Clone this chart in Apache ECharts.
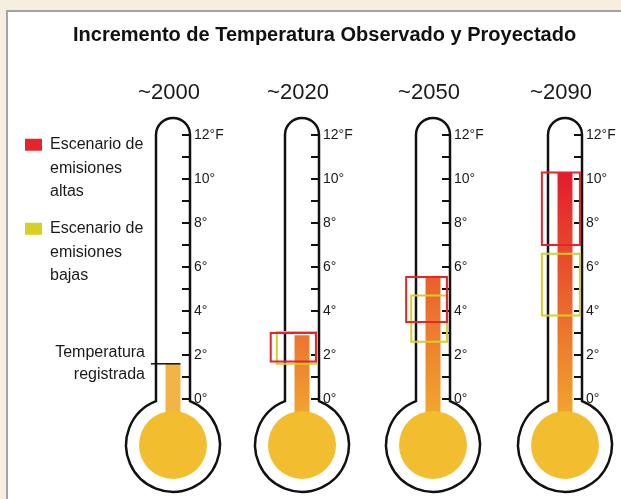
<!DOCTYPE html>
<html><head><meta charset="utf-8">
<script src="https://cdn.jsdelivr.net/npm/echarts@6/dist/echarts.min.js"></script>
<style>html,body{margin:0;padding:0;background:#f6efdf}#c{width:621px;height:499px}</style>
</head><body><div id="c"></div>
<script>
// ---- data ----
const years = ['~2000', '~2020', '~2050', '~2090'];
const scaleLabels = ['0°', '2°', '4°', '6°', '8°', '10°', '12°F'];
const observed = [1.6, null, null, null];
const stemTop = [1.6, 2.9, 5.55, 10.3];
const highLow = [null, 1.7, 3.5, 7.0];
const highHigh = [null, 3.0, 5.55, 10.3];
const lowLow = [null, 1.6, 2.6, 3.8];
const lowHigh = [null, 3.05, 4.7, 6.6];
const HIGH = 'Escenario de emisiones altas';
const LOW = 'Escenario de emisiones bajas';
const OBS_LABEL = 'Temperatura\nregistrada';
const TITLE = 'Incremento de Temperatura Observado y Proyectado';

// ---- style ----
const FONT = "'Liberation Sans', Arial, sans-serif";
const gridLeft = [156, 285, 416, 548];
const TW = 34;
const stemTopColor = ['#f0b546', '#ec7431', '#e9602d', '#e31b2d'];
const redInset = [null, [-0.42, 0.91], [-0.29, 0.91], [-0.18, 0.94]];
const yelInset = [null, [-0.24, 0.94], [-0.14, 0.91], [-0.18, 0.94]];
const RED = '#e5242c', YEL = '#d6cf24';

const chart = echarts.init(document.getElementById('c'));
const grids = [], xAxes = [], yAxes = [], series = [];

function geom(api) {
  const t = api.coord([0, 12]), b = api.coord([0, 0]), w = api.size([1, 0])[0];
  const cx = t[0];
  return { t, b, w, cx, xl: cx - w / 2, xr: cx + w / 2, r: w / 2, R: w * 1.38, cy: b[1] + w * 1.35 };
}

years.forEach((yr, i) => {
  grids.push({ left: gridLeft[i], top: 135, width: TW, height: 264 });
  xAxes.push({
    type: 'category', gridIndex: i, data: [yr], position: 'top',
    axisLine: { show: false }, axisTick: { show: false }, splitLine: { show: false },
    axisLabel: { fontSize: 22, color: '#1a1a1a', margin: 31, fontFamily: FONT, padding: [0, 8, 0, 0] }
  });
  yAxes.push({
    type: 'value', gridIndex: i, min: 0, max: 12, interval: 1, position: 'right',
    axisLine: { show: false }, splitLine: { show: false },
    axisTick: { show: true, inside: true, length: 8, lineStyle: { color: '#111', width: 2 } },
    axisLabel: { margin: 4, fontSize: 14, color: '#1a1a1a', fontFamily: FONT,
      formatter: v => (v % 2 === 0 ? scaleLabels[v / 2] : '') }
  });
  // stem + bulb
  series.push({
    type: 'custom', xAxisIndex: i, yAxisIndex: i, silent: true, z: 2,
    data: [[0, stemTop[i]]],
    renderItem: (p, api) => {
      const g = geom(api);
      const top = api.coord([0, api.value(1)])[1];
      const sw = g.w * 0.44;
      const fill = i === 0 ? stemTopColor[0] : new echarts.graphic.LinearGradient(0, 0, 0, 1, [
        { offset: 0, color: stemTopColor[i] }, { offset: 1, color: '#f3b62e' }]);
      return { type: 'group', children: [
        { type: 'rect', shape: { x: g.cx - sw / 2, y: top, width: sw, height: g.cy - top }, style: { fill } },
        { type: 'circle', shape: { cx: g.cx, cy: g.cy, r: g.w * 1.0 }, style: { fill: '#f2bd2e' } }
      ] };
    }
  });
  // outline
  series.push({
    type: 'custom', xAxisIndex: i, yAxisIndex: i, silent: true, z: 3,
    data: [[0, 12]],
    renderItem: (p, api) => {
      const g = geom(api);
      const jy = g.cy - Math.sqrt(g.R * g.R - g.r * g.r);
      const ty = g.t[1];
      return { type: 'path', shape: { pathData:
        `M${g.xl} ${ty} A${g.r} ${g.r} 0 0 1 ${g.xr} ${ty} L${g.xr} ${jy} A${g.R} ${g.R} 0 1 1 ${g.xl} ${jy} Z` },
        style: { fill: 'none', stroke: '#111', lineWidth: 2.5 } };
    }
  });
  if (observed[i] != null) {
    series.push({
      type: 'custom', xAxisIndex: i, yAxisIndex: i, silent: true, z: 4,
      data: [[0, observed[i]]],
      renderItem: (p, api) => {
        const g = geom(api);
        const y = api.coord([0, api.value(1)])[1];
        return { type: 'group', children: [
          { type: 'line', shape: { x1: g.xl - 5, y1: y, x2: g.cx + g.w * 0.22, y2: y }, style: { stroke: '#111', lineWidth: 1.5 } },
          { type: 'text', x: g.xl - 11, y: y, style: { text: OBS_LABEL, align: 'right', verticalAlign: 'middle',
            fontSize: 16, lineHeight: 22, fontFamily: FONT, fill: '#1a1a1a' } }
        ] };
      }
    });
  }
  const box = (name, lo, hi, inset, color) => ({
    type: 'custom', name, xAxisIndex: i, yAxisIndex: i, z: 5, silent: true,
    itemStyle: { color },
    data: [[0, lo, hi]],
    renderItem: (p, api) => {
      const g = geom(api);
      const a = api.coord([0, api.value(2)])[1], b = api.coord([0, api.value(1)])[1];
      return { type: 'rect', shape: { x: g.xl + inset[0] * g.w, y: a, width: (inset[1] - inset[0]) * g.w, height: b - a },
        style: { fill: 'none', stroke: color, lineWidth: 2 } };
    }
  });
  if (lowLow[i] != null) series.push(box(LOW, lowLow[i], lowHigh[i], yelInset[i], YEL));
  if (highLow[i] != null) series.push(box(HIGH, highLow[i], highHigh[i], redInset[i], RED));
});

const legendBase = {
  orient: 'vertical', left: 25, padding: 0, itemWidth: 17, itemHeight: 12, icon: 'rect', selectedMode: false,
  textStyle: { fontSize: 16, lineHeight: 23.5, color: '#1a1a1a', fontFamily: FONT, padding: [0, 0, 0, 3] }
};

chart.setOption({
  backgroundColor: '#f6efdf',
  animation: false,
  graphic: [{ type: 'rect', z: -10, silent: true, shape: { x: 7, y: 11, width: 640, height: 520 },
    style: { fill: '#ffffff', stroke: '#a3a3a3', lineWidth: 2 } }],
  title: { text: TITLE, left: 68, top: 20, textStyle: { fontSize: 20, fontWeight: 'bold', color: '#111', fontFamily: FONT } },
  legend: [
    Object.assign({}, legendBase, { data: [HIGH], top: 86, formatter: () => '\n\nEscenario de\nemisiones\naltas' }),
    Object.assign({}, legendBase, { data: [LOW], top: 170, formatter: () => '\n\nEscenario de\nemisiones\nbajas' })
  ],
  grid: grids, xAxis: xAxes, yAxis: yAxes, series
});
</script></body></html>
